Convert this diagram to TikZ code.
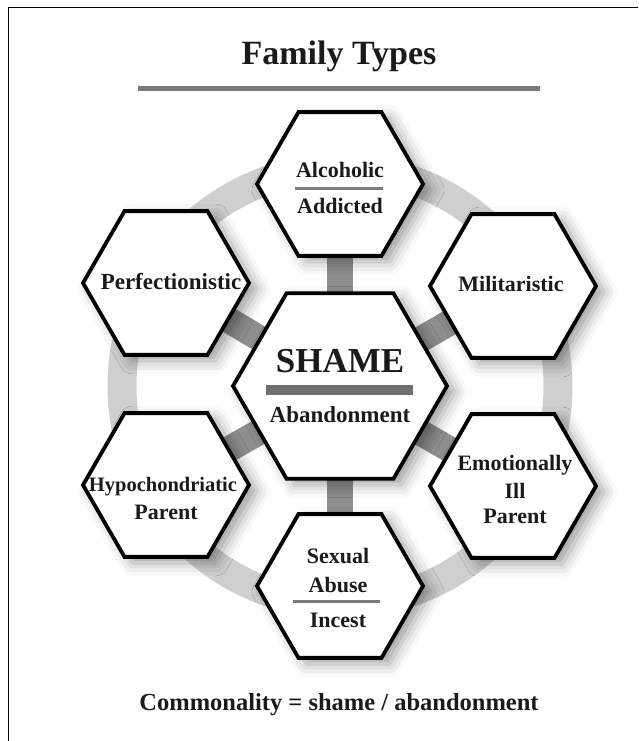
\documentclass[tikz,border=0pt]{standalone}
\usepackage{fontspec}
\setmainfont{Liberation Serif}
\usetikzlibrary{shapes.geometric, shadows.blur}
\pgfdeclarelayer{back}
\pgfsetlayers{back,main}
\definecolor{ringgray}{HTML}{CFCFCF}
\definecolor{spokegray}{HTML}{8E8E8E}
\definecolor{rulegray}{HTML}{7C7C7C}
\definecolor{inkblack}{HTML}{1A1A1A}

\tikzset{
  hexa/.style={draw, line width=3.8pt, line join=miter, fill=white, regular polygon, regular polygon sides=6,
    inner sep=0pt, minimum size=166pt,
    blur shadow={shadow xshift=8pt, shadow yshift=-6pt, shadow blur radius=13pt, shadow opacity=38}},
  bighexa/.style={hexa, minimum size=214pt},
  lbl/.style={font=\fontsize{22}{26}\selectfont\bfseries, text=inkblack, anchor=base, inner sep=0pt},
  bar/.style={draw=rulegray, line width=3pt},
  ring/.style={draw=ringgray, line width=29pt},
  spoke/.style={draw=spokegray, line width=26pt}
}

\begin{document}
\begin{tikzpicture}[x=1pt,y=-1pt]
\useasboundingbox (0,0) rectangle (638,741);
% frame
\coordinate (fbl) at (8,741);
\coordinate (ftl) at (8,8);
\coordinate (ftr) at (638,8);
\draw[line width=1pt] (fbl) -- (ftl) -- (ftr);

% title
\node[lbl, font=\fontsize{34}{40}\selectfont\bfseries] (title) at (339,65) {Family Types};
\draw[draw=rulegray, line width=5pt] (138,88.5) -- (540,88.5);

% hexagons
\node[bighexa] (mid) at (340,386) {};
\node[hexa] (alc) at (340,184) {};
\node[hexa] (mil) at (513,286) {};
\node[hexa] (emo) at (513,486) {};
\node[hexa] (sex) at (340,586) {};
\node[hexa] (hyp) at (166,485) {};
\node[hexa] (per) at (166,283) {};

% ring and spokes
\begin{pgfonlayer}{back}
\draw[ring] (mid.center) circle[radius=218pt];
\foreach \n in {alc,mil,emo,sex,hyp,per}
  \draw[spoke] (mid.center) -- (\n.center);
\end{pgfonlayer}

% labels
\node[lbl, font=\fontsize{35}{40}\selectfont\bfseries] (shame) at (340,372) {SHAME};
\draw[draw=rulegray!90!black, line width=10pt] (266,390) -- (413,390);
\node[lbl, font=\fontsize{23}{27}\selectfont\bfseries] (aband) at (340,422) {Abandonment};

\node[lbl] (alc1) at (340,177) {Alcoholic};
\draw[bar] (295,188) -- (383,188);
\node[lbl] (alc2) at (340,213) {Addicted};

\node[lbl] (mil1) at (511,291) {Militaristic};

\node[lbl] (emo1) at (515,470) {Emotionally};
\node[lbl] (emo2) at (515,498) {Ill};
\node[lbl] (emo3) at (515,523) {Parent};

\node[lbl] (sex1) at (338,563) {Sexual};
\node[lbl] (sex2) at (338,592) {Abuse};
\draw[bar] (293,601) -- (380,601);
\node[lbl] (sex3) at (338,627) {Incest};

\node[lbl, font=\fontsize{20.5}{24}\selectfont\bfseries] (hyp1) at (163,491) {Hypochondriatic};
\node[lbl] (hyp2) at (166,519) {Parent};

\node[lbl, font=\fontsize{23}{27}\selectfont\bfseries] (per1) at (171,289) {Perfectionistic};

% bottom line
\node[lbl, font=\fontsize{24.5}{30}\selectfont\bfseries] (common) at (339,710) {Commonality = shame / abandonment};
\end{tikzpicture}
\end{document}
